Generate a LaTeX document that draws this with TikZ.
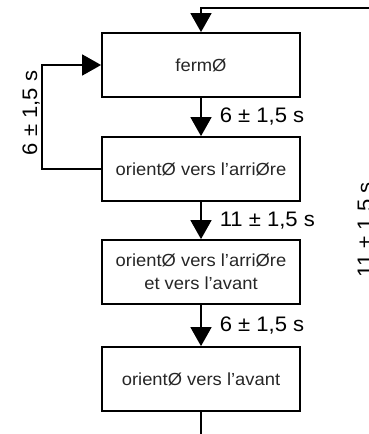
\documentclass[tikz,border=0pt]{standalone}
\usepackage{fontspec}
\setmainfont{Liberation Sans}[FakeStretch=1.05]
\usepackage{tikz}
\usetikzlibrary{arrows.meta}
\tikzset{state/.style={draw, line width=1.8pt, rectangle, minimum width=198pt,
        minimum height=64pt, inner sep=0pt, align=center, text=black!85,
        font=\fontsize{17.5}{23}\selectfont},
    flow/.style={line width=1.6pt, -{Triangle[width=21pt,length=19pt]}},
    plain/.style={line width=1.6pt},
    steplbl/.style={right, inner sep=0pt, xshift=18pt, font=\fontsize{21}{24}\selectfont},
    sidelbl/.style={rotate=90, anchor=base, inner sep=0pt, font=\fontsize{21}{24}\selectfont}
}

\begin{document}
\begin{tikzpicture}[x=1pt, y=-1pt]
      \useasboundingbox (0,0) rectangle (369,434);
      \node[state] (closed) at (201,65) {fermØ};
      \node[state] (back) at (201,169) {orientØ vers l’arriØre};
      \node[state] (both) at (201,272) {orientØ vers l’arriØre\\et vers l’avant};
      \node[state] (front) at (201,379) {orientØ vers l’avant};
      \coordinate (loopin) at (385,8);
      \coordinate (exit) at (201,445);
      \draw[flow] (loopin) -| (closed);
      \draw[flow] (closed) -- node[steplbl] {6 ± 1,5 s} (back);
      \draw[flow] (back) -- node[steplbl] {11 ± 1,5 s} (both);
      \draw[flow] (both) -- node[steplbl] {6 ± 1,5 s} (front);
      \draw[plain] (front) -- (exit);
      % retour vers fermØ
      \draw[flow] (back.west) -- ++(-59,0) |- (closed.west);
      \node[sidelbl] (backlbl) at (37,113) {6 ± 1,5 s};
      \node[sidelbl] (looplbl) at (372,230) {11 ± 1,5 s};
\end{tikzpicture}
\end{document}
